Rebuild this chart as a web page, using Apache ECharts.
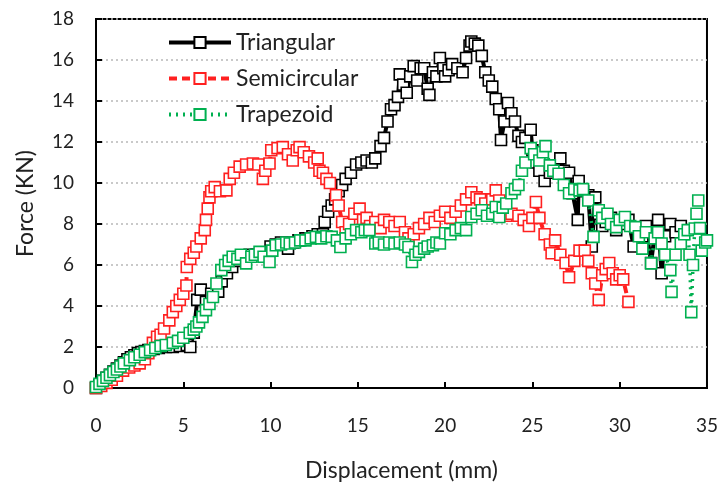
<!DOCTYPE html>
<html>
<head>
<meta charset="utf-8">
<script src="https://cdn.jsdelivr.net/npm/echarts@6/dist/echarts.min.js"></script>
<style>html,body{margin:0;padding:0;background:#fff;}#c{width:721px;height:489px;}</style>
</head>
<body>
<div id="c"></div>
<script>
var seriesNames = ['Triangular', 'Semicircular', 'Trapezoid'];
var xTicks = [0, 5, 10, 15, 20, 25, 30, 35];
var yTicks = [0, 2, 4, 6, 8, 10, 12, 14, 16, 18];

var triangular = [[0,0],[0.2,0.15],[0.4,0.35],[0.6,0.5],[0.8,0.65],[1.0,0.8],[1.2,0.95],[1.4,1.1],[1.6,1.25],[1.8,1.4],[2.0,1.5],[2.2,1.6],[2.4,1.7],[2.6,1.75],[2.8,1.8],[3.0,1.85],[3.3,1.9],[3.6,1.95],[4.0,2.0],[4.4,2.0],[4.8,2.05],[5.2,2.1],[5.4,2.0],[5.6,2.7],[5.8,4.3],[6.0,4.8],[6.3,4.2],[6.6,4.6],[7.0,4.7],[7.2,5.2],[7.5,5.6],[7.8,5.9],[8.1,6.2],[8.4,6.4],[8.8,6.5],[9.2,6.5],[9.6,6.6],[10.0,6.9],[10.3,7.0],[10.6,7.1],[11.0,6.8],[11.3,7.1],[11.6,7.2],[12.0,7.3],[12.4,7.4],[12.7,7.5],[13.0,7.5],[13.1,8.1],[13.3,8.6],[13.5,8.9],[13.7,9.2],[13.9,9.6],[14.1,9.9],[14.3,10.2],[14.6,10.5],[14.9,10.9],[15.2,11.0],[15.5,11.1],[15.8,11.0],[16.0,11.2],[16.3,11.8],[16.5,12.2],[16.7,13.0],[16.9,13.6],[17.1,13.8],[17.3,14.2],[17.4,15.3],[17.6,14.8],[17.8,14.4],[18.0,15.2],[18.2,15.7],[18.4,15.0],[18.6,15.6],[18.8,15.6],[19.0,14.6],[19.1,14.3],[19.3,15.4],[19.5,15.2],[19.7,16.1],[19.9,15.6],[20.0,15.2],[20.2,15.5],[20.4,15.8],[20.7,15.6],[21.0,15.4],[21.2,16.1],[21.4,16.7],[21.5,16.9],[21.7,16.8],[21.9,16.7],[22.1,16.2],[22.3,15.4],[22.5,15.0],[22.7,14.7],[22.9,14.1],[23.1,13.6],[23.2,12.1],[23.4,13.0],[23.6,13.9],[23.8,13.4],[24.0,13.0],[24.2,12.3],[24.4,12.0],[24.6,12.2],[24.9,12.6],[25.0,11.6],[25.2,11.0],[25.4,10.6],[25.7,10.1],[26.0,10.5],[26.3,10.8],[26.6,11.2],[26.8,10.6],[27.1,10.5],[27.3,9.5],[27.6,8.2],[27.65,10.1],[27.9,9.6],[28.2,9.4],[28.4,6.9],[28.6,9.3],[28.8,8.5],[29.0,7.9],[29.2,8.1],[29.5,8.3],[29.8,7.7],[30.1,8.0],[30.5,8.2],[30.8,6.9],[31.0,7.8],[31.3,7.4],[31.5,7.9],[31.8,6.1],[32.0,7.5],[32.2,8.2],[32.4,5.6],[32.6,7.4],[32.9,8.0],[33.2,7.6],[33.5,7.9]];

var semicircular = [[0,0],[0.3,0.1],[0.6,0.25],[0.9,0.4],[1.2,0.6],[1.55,0.85],[1.9,1.0],[2.2,1.1],[2.5,1.2],[2.8,1.4],[3.0,1.7],[3.26,2.2],[3.5,2.5],[3.7,2.6],[3.9,2.9],[4.2,3.3],[4.4,3.7],[4.6,4.0],[4.8,4.3],[5.0,4.6],[5.18,5.0],[5.2,5.9],[5.4,6.3],[5.6,6.6],[5.75,6.9],[6.0,7.3],[6.23,7.7],[6.3,8.2],[6.4,8.75],[6.5,9.3],[6.6,9.6],[6.8,9.8],[7.1,9.6],[7.47,9.64],[7.66,10.2],[7.9,10.5],[8.23,10.8],[8.6,10.9],[8.99,10.95],[9.3,10.9],[9.56,10.2],[9.7,10.6],[9.94,10.95],[10.04,11.6],[10.4,11.7],[10.7,11.75],[11.0,11.4],[11.27,11.1],[11.5,11.6],[11.66,11.75],[11.9,11.5],[12.2,11.3],[12.5,11.0],[12.7,11.2],[12.8,10.6],[13.0,10.5],[13.2,10.2],[13.4,10.0],[13.75,9.4],[13.9,8.9],[14.1,8.1],[14.3,7.6],[14.5,8.0],[14.8,8.5],[15.1,8.75],[15.3,8.2],[15.5,8.3],[15.7,7.9],[16.0,8.1],[16.3,7.8],[16.5,8.2],[16.8,8.1],[17.1,7.9],[17.4,8.1],[17.7,7.6],[17.9,7.3],[18.2,7.5],[18.5,7.8],[18.8,8.0],[19.1,8.3],[19.4,8.1],[19.7,8.4],[20.0,8.6],[20.3,8.3],[20.6,8.6],[20.9,8.9],[21.2,9.2],[21.5,9.55],[21.8,9.3],[22.0,9.2],[22.3,9.0],[22.7,9.2],[22.9,9.64],[23.1,9.15],[23.4,8.8],[23.5,8.4],[23.8,8.5],[24.2,8.4],[24.5,8.2],[24.8,7.9],[25.0,8.3],[25.2,9.07],[25.4,8.3],[25.7,7.5],[26.0,7.0],[26.1,6.57],[26.3,7.2],[26.6,6.5],[26.9,6.1],[27.1,5.4],[27.4,6.2],[27.7,6.7],[28.0,6.7],[28.2,6.2],[28.4,5.6],[28.6,5.1],[28.8,4.3],[29.0,5.5],[29.2,5.8],[29.4,6.1],[29.6,5.6],[29.8,5.3],[30.0,5.5],[30.2,5.3],[30.5,4.2]];

var trapezoid = [[0,0.05],[0.2,0.2],[0.4,0.35],[0.6,0.5],[0.8,0.63],[1.0,0.78],[1.2,0.9],[1.4,1.05],[1.6,1.2],[1.94,1.36],[2.2,1.5],[2.5,1.62],[2.8,1.75],[3.1,1.85],[3.4,1.95],[3.7,2.05],[4.0,2.1],[4.4,2.2],[4.7,2.3],[5.0,2.45],[5.37,2.68],[5.6,2.85],[5.75,3.0],[5.9,3.2],[6.1,3.47],[6.3,3.8],[6.5,4.1],[6.7,4.44],[6.9,5.1],[7.18,5.75],[7.4,6.0],[7.6,6.2],[7.83,6.4],[8.1,6.3],[8.3,6.5],[8.6,6.08],[8.9,6.4],[9.1,6.5],[9.37,6.64],[9.6,6.4],[9.94,6.15],[10.1,6.7],[10.3,6.96],[10.6,7.0],[10.9,7.1],[11.1,7.05],[11.4,7.1],[11.7,7.2],[12.0,7.2],[12.3,7.3],[12.6,7.37],[12.9,7.3],[13.2,7.4],[13.5,7.37],[13.8,7.2],[14.0,6.88],[14.3,7.3],[14.6,7.5],[14.9,7.7],[15.2,7.6],[15.4,7.7],[15.66,7.7],[16.0,7.05],[16.2,7.1],[16.5,7.0],[16.8,7.1],[17.1,7.05],[17.4,7.1],[17.7,7.0],[17.9,6.88],[18.1,6.15],[18.3,6.5],[18.5,6.64],[18.8,6.8],[19.0,6.9],[19.3,6.96],[19.5,7.1],[19.7,7.05],[20.0,7.55],[20.3,7.5],[20.6,7.7],[20.9,7.8],[21.2,7.7],[21.5,8.34],[21.8,8.5],[22.1,8.67],[22.4,8.4],[22.7,8.5],[22.9,8.83],[23.1,8.34],[23.3,8.8],[23.5,9.0],[23.8,9.5],[24.0,9.7],[24.2,9.9],[24.4,10.6],[24.6,11.0],[24.9,11.7],[25.1,11.4],[25.4,11.1],[25.6,11.5],[25.75,11.8],[26.0,10.86],[26.2,10.6],[26.5,10.45],[26.8,9.9],[27.1,9.5],[27.4,9.7],[27.7,9.64],[27.9,9.7],[28.2,9.15],[28.5,7.37],[28.8,8.67],[29.0,8.3],[29.3,8.5],[29.5,8.0],[29.8,7.85],[30.0,8.2],[30.3,8.34],[30.6,7.9],[30.9,7.85],[31.1,7.4],[31.3,6.8],[31.5,7.6],[31.8,6.08],[32.0,7.3],[32.2,7.6],[32.4,7.05],[32.6,6.5],[32.9,5.75],[32.97,4.69],[33.2,6.5],[33.5,7.05],[33.7,7.5],[33.9,7.7],[34.0,6.5],[34.1,3.7],[34.2,6.0],[34.3,7.78],[34.4,8.5],[34.5,9.15],[34.6,7.8],[34.7,6.7],[34.9,7.1],[35.0,7.2]];

var FONT = 'Lato';
var chart = echarts.init(document.getElementById('c'), null, {renderer: 'canvas'});

function mkSeries(name, data, color, lineType, lineWidth) {
  return {
    name: name,
    type: 'line',
    data: data,
    symbol: 'rect',
    symbolSize: 11,
    showSymbol: true,
    clip: false,
    animation: false,
    lineStyle: {color: color, width: lineWidth, type: lineType},
    itemStyle: {color: '#ffffff', borderColor: color, borderWidth: 1.6}
  };
}

chart.setOption({
  animation: false,
  backgroundColor: '#ffffff',
  textStyle: {fontFamily: FONT},
  grid: {left: 96, right: 12, top: 19, bottom: 101, show: true, borderColor: '#000', borderWidth: 2, backgroundColor: 'transparent'},
  legend: {
    orient: 'vertical',
    left: 162,
    top: 26,
    itemWidth: 62,
    itemHeight: 14,
    itemGap: 13,
    data: seriesNames,
    lineStyle: {width: 4},
    textStyle: {fontFamily: FONT, fontSize: 23, lineHeight: 22, color: '#222', padding: [0, 0, 0, 0]}
  },
  xAxis: {
    type: 'value',
    min: xTicks[0],
    max: xTicks[xTicks.length - 1],
    interval: 5,
    name: 'Displacement (mm)',
    nameLocation: 'middle',
    nameGap: 71,
    nameTextStyle: {fontFamily: FONT, fontSize: 23, color: '#222'},
    axisLine: {show: true, lineStyle: {color: '#000', width: 2}},
    axisTick: {show: true, inside: true, length: 6, lineStyle: {color: '#000', width: 2}},
    axisLabel: {margin: 28, fontFamily: FONT, fontSize: 19, color: '#222'},
    splitLine: {show: false}
  },
  yAxis: {
    type: 'value',
    min: yTicks[0],
    max: yTicks[yTicks.length - 1],
    interval: 2,
    name: 'Force (KN)',
    nameLocation: 'middle',
    nameGap: 59,
    nameTextStyle: {fontFamily: FONT, fontSize: 23, color: '#222'},
    axisLine: {show: true, lineStyle: {color: '#000', width: 2}},
    axisTick: {show: true, inside: true, length: 6, lineStyle: {color: '#000', width: 2}},
    axisLabel: {margin: 22, fontFamily: FONT, fontSize: 19, color: '#222'},
    splitLine: {show: true, lineStyle: {color: '#b8b8b8', width: 1.5, type: [2, 3]}}
  },
  series: [
    mkSeries(seriesNames[0], triangular, '#000000', 'solid', 4),
    mkSeries(seriesNames[1], semicircular, '#ff2020', [8, 5], 4),
    mkSeries(seriesNames[2], trapezoid, '#00b050', [2, 5], 3.5)
  ]
});
</script>
</body>
</html>
